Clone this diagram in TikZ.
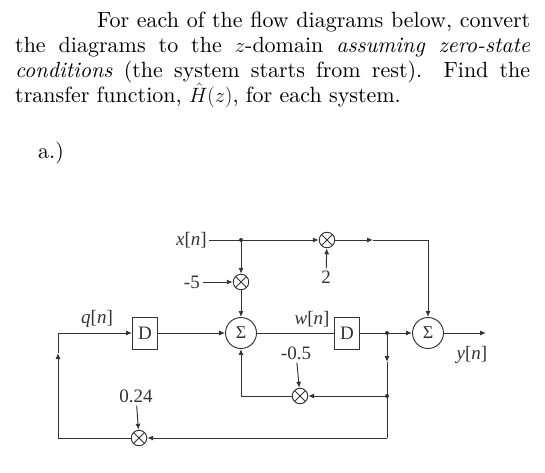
\documentclass[tikz,border=0pt]{standalone}
\usepackage{fontspec}
\setmainfont{lmroman10-regular.otf}[ItalicFont=lmroman10-italic.otf, BoldFont=lmroman10-bold.otf]
\newfontfamily\dfont{Liberation Serif}
\usetikzlibrary{arrows.meta,calc}
\definecolor{lc}{gray}{0.2}
\begin{document}
\begin{tikzpicture}[x=1pt,y=-1pt,
  line/.style={draw=lc, line width=0.95pt},
  arr/.style={line, -{Latex[length=6pt,width=5pt]}},
  mult/.style={circle, draw=lc, line width=0.95pt, minimum size=15.5pt, inner sep=0pt,
    path picture={\draw[lc,line width=0.8pt] (path picture bounding box.north west) -- (path picture bounding box.south east) (path picture bounding box.north east) -- (path picture bounding box.south west);}},
  sumnode/.style={circle, draw=lc, line width=0.95pt, minimum size=31pt, inner sep=0pt, text=lc, font={\fontsize{18}{18}\dfont}},
  delay/.style={rectangle, draw=lc, line width=0.95pt, minimum width=25pt, minimum height=32pt, inner sep=0pt, text=lc, font={\fontsize{19}{19}\dfont}},
  lab/.style={inner sep=0pt, text=lc, font={\fontsize{19}{19}\dfont}},
  jdot/.style={circle, fill=lc, minimum size=4pt, inner sep=0pt},
  body/.style={inner sep=0pt, font={\fontsize{22}{25.3}\selectfont}}
]
\path[use as bounding box] (0,0) rectangle (545,472);

\node[body, anchor=base west, text width=515pt, align=justify] (txt) at (15,27)
 {\hspace*{82pt}For each of the flow diagrams below, convert\linebreak
  the diagrams to the $z$-domain \textit{assuming zero-state}\linebreak
  \textit{conditions} (the system starts from rest). Find the\linebreak
  transfer function, $\hat{H}(z)$, for each system.};
\node[body, anchor=base west] (parta) at (38,158) {a.)};

% nodes
\node[lab, anchor=east] (xn) at (207,240) {\textit{x}[\textit{n}]};
\coordinate (J1) at (241,240);
\node[mult] (M2) at (327,240) {};
\coordinate (A1) at (373,240);
\coordinate (C1) at (428,240);
\node[lab] (two) at (326,277) {2};
\node[mult] (M1) at (241,282) {};
\node[lab, anchor=east] (m5) at (200,282) {-5};
\node[sumnode] (S1) at (241,333) {Σ};
\node[delay] (D1) at (145,333) {D};
\node[delay] (D2) at (347,333) {D};
\node[sumnode] (S2) at (428,333) {Σ};
\coordinate (out) at (486,333);
\node[lab] (yn) at (472,355) {\textit{y}[\textit{n}]};
\node[lab] (qn) at (97,319) {\textit{q}[\textit{n}]};
\node[lab] (wn) at (312,319) {\textit{w}[\textit{n}]};
\coordinate (J2) at (387,333);
\coordinate (A3) at (387,362);
\coordinate (J3) at (387,396);
\coordinate (C2) at (387,438);
\node[mult] (M3) at (300,396) {};
\node[lab] (m05) at (296,353) {-0.5};
\coordinate (C3) at (241,396);
\node[mult] (M4) at (139,438) {};
\node[lab] (k) at (136,396) {0.24};
\coordinate (C4) at (58,438);
\coordinate (A2) at (58,353);
\coordinate (C5) at (58,333);

% connectors
\draw[line, shorten <=2pt] (xn.east) -- (J1);
\draw[arr] (J1) -- (M2);
\draw[arr] (M2) -- (A1);
\draw[line] (A1) -- (C1);
\draw[arr] (C1) -- (S2);
\draw[arr, shorten <=2pt] (two) -- (M2);
\draw[arr] (J1) -- (M1);
\draw[arr, shorten <=3pt] (m5) -- (M1);
\draw[arr] (M1) -- (S1);
\draw[arr] (C4) -- (A2);
\draw[line] (A2) -- (C5);
\draw[arr] (C5) -- (D1);
\draw[arr] (D1) -- (S1);
\draw[line] (S1) -- (D2);
\draw[arr] (D2) -- (S2);
\draw[arr] (S2) -- (out);
\draw[arr] (J2) -- (A3);
\draw[line] (A3) -- (J3);
\draw[arr] (J3) -- (M3);
\draw[line] (M3) -- (C3);
\draw[arr] (C3) -- (S1);
\draw[arr, shorten <=3pt] (m05) -- (M3);
\draw[line] (J3) -- (C2);
\draw[arr] (C2) -- (M4);
\draw[arr, shorten <=3pt] (k) -- (M4);
\draw[line] (M4) -- (C4);

\node[jdot] at (J1) {};
\node[jdot] at (J2) {};
\node[jdot] at (J3) {};
\end{tikzpicture}
\end{document}
